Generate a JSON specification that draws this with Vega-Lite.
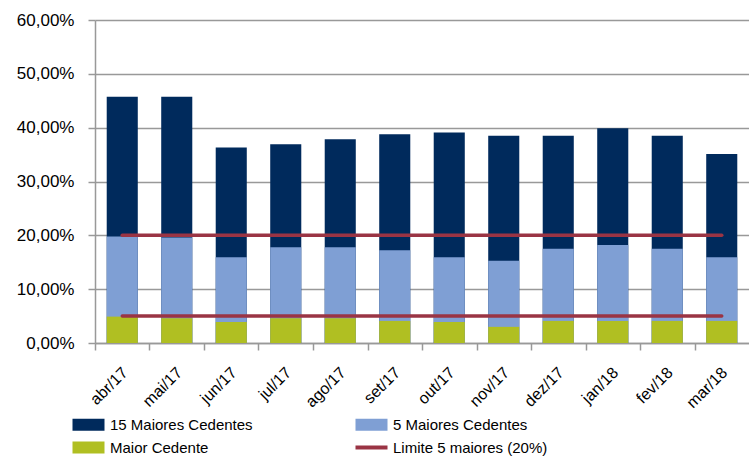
{
  "$schema": "https://vega.github.io/schema/vega-lite/v6.json",
  "width": 654,
  "height": 323,
  "autosize": {"type": "none"},
  "padding": {"left": 95, "top": 20, "right": 0, "bottom": 113},
  "background": "white",
  "config": {
    "view": {"stroke": null},
    "font": "Liberation Sans"
  },
  "datasets": {
    "barras": [
      {"mes": "abr/17", "serie": "15 Maiores Cedentes", "valor": 45.75},
      {"mes": "mai/17", "serie": "15 Maiores Cedentes", "valor": 45.75},
      {"mes": "jun/17", "serie": "15 Maiores Cedentes", "valor": 36.3},
      {"mes": "jul/17", "serie": "15 Maiores Cedentes", "valor": 36.9},
      {"mes": "ago/17", "serie": "15 Maiores Cedentes", "valor": 37.85},
      {"mes": "set/17", "serie": "15 Maiores Cedentes", "valor": 38.8},
      {"mes": "out/17", "serie": "15 Maiores Cedentes", "valor": 39.1},
      {"mes": "nov/17", "serie": "15 Maiores Cedentes", "valor": 38.5},
      {"mes": "dez/17", "serie": "15 Maiores Cedentes", "valor": 38.5},
      {"mes": "jan/18", "serie": "15 Maiores Cedentes", "valor": 39.9},
      {"mes": "fev/18", "serie": "15 Maiores Cedentes", "valor": 38.5},
      {"mes": "mar/18", "serie": "15 Maiores Cedentes", "valor": 35.1},
      {"mes": "abr/17", "serie": "5 Maiores Cedentes", "valor": 19.8},
      {"mes": "mai/17", "serie": "5 Maiores Cedentes", "valor": 19.6},
      {"mes": "jun/17", "serie": "5 Maiores Cedentes", "valor": 15.95},
      {"mes": "jul/17", "serie": "5 Maiores Cedentes", "valor": 17.8},
      {"mes": "ago/17", "serie": "5 Maiores Cedentes", "valor": 17.8},
      {"mes": "set/17", "serie": "5 Maiores Cedentes", "valor": 17.25},
      {"mes": "out/17", "serie": "5 Maiores Cedentes", "valor": 15.95},
      {"mes": "nov/17", "serie": "5 Maiores Cedentes", "valor": 15.3},
      {"mes": "dez/17", "serie": "5 Maiores Cedentes", "valor": 17.5},
      {"mes": "jan/18", "serie": "5 Maiores Cedentes", "valor": 18.2},
      {"mes": "fev/18", "serie": "5 Maiores Cedentes", "valor": 17.5},
      {"mes": "mar/18", "serie": "5 Maiores Cedentes", "valor": 15.95},
      {"mes": "abr/17", "serie": "Maior Cedente", "valor": 4.9},
      {"mes": "mai/17", "serie": "Maior Cedente", "valor": 4.6},
      {"mes": "jun/17", "serie": "Maior Cedente", "valor": 3.9},
      {"mes": "jul/17", "serie": "Maior Cedente", "valor": 4.6},
      {"mes": "ago/17", "serie": "Maior Cedente", "valor": 4.6},
      {"mes": "set/17", "serie": "Maior Cedente", "valor": 4.1},
      {"mes": "out/17", "serie": "Maior Cedente", "valor": 3.9},
      {"mes": "nov/17", "serie": "Maior Cedente", "valor": 3.0},
      {"mes": "dez/17", "serie": "Maior Cedente", "valor": 4.1},
      {"mes": "jan/18", "serie": "Maior Cedente", "valor": 4.1},
      {"mes": "fev/18", "serie": "Maior Cedente", "valor": 4.1},
      {"mes": "mar/18", "serie": "Maior Cedente", "valor": 4.1}
    ],
    "limites": [
      {"inicio": "abr/17", "fim": "mar/18", "valor": 20, "serie": "Limite 5 maiores (20%)"},
      {"inicio": "abr/17", "fim": "mar/18", "valor": 5, "serie": "Limite 5 maiores (20%)"}
    ]
  },
  "layer": [
    {
      "data": {"name": "barras"},
      "mark": {"type": "bar"},
      "encoding": {
        "x": {
          "field": "mes", "type": "nominal", "sort": null,
          "scale": {"paddingInner": 0.43, "paddingOuter": 0.215},
          "axis": {
            "title": null, "tickOffset": -27.25, "labelOffset": 24,
            "labelAngle": -45, "labelFontSize": 16, "labelColor": "#000",
            "domainColor": "#999", "domainWidth": 1.5,
            "tickColor": "#999", "tickSize": 7, "tickWidth": 1.5,
            "labelPadding": 14, "grid": false
          }
        },
        "y": {
          "field": "valor", "type": "quantitative", "stack": null,
          "scale": {"domain": [0, 60], "nice": false},
          "axis": {
            "title": null, "values": [0, 10, 20, 30, 40, 50, 60],
            "labelExpr": "replace(format(datum.value, '.2f'), '.', ',') + '%'",
            "labelFontSize": 17, "labelColor": "#000", "labelPadding": 14,
            "grid": true, "gridColor": "#999", "gridWidth": 1.5,
            "domainColor": "#999", "domainWidth": 1.5,
            "tickColor": "#999", "tickSize": 7, "tickWidth": 1.5
          }
        },
        "color": {
          "field": "serie", "type": "nominal",
          "scale": {
            "domain": ["15 Maiores Cedentes", "Maior Cedente", "5 Maiores Cedentes", "Limite 5 maiores (20%)"],
            "range": ["#002a5c", "#b0bf22", "#7f9fd4", "#9a3444"]
          },
          "legend": {
            "title": null, "orient": "none", "legendX": -14, "legendY": 397,
            "columns": 2, "columnPadding": 94, "rowPadding": 6,
            "labelFontSize": 15, "labelColor": "#000", "labelOffset": 14,
            "symbolSize": 1024, "labelLimit": 300,
            "encode": {
              "symbols": {
                "update": {
                  "shape": {"signal": "datum.label === 'Limite 5 maiores (20%)' ? 'M-1,0H1' : 'M-1,-0.375H1V0.375H-1Z'"},
                  "fill": {"scale": "color", "field": "value"},
                  "stroke": {"scale": "color", "field": "value"},
                  "strokeWidth": {"signal": "datum.label === 'Limite 5 maiores (20%)' ? 4 : 0"},
                  "opacity": {"value": 1}
                }
              }
            }
          }
        }
      }
    },
    {
      "data": {"name": "limites"},
      "mark": {"type": "rule", "strokeWidth": 3.5, "strokeCap": "round"},
      "encoding": {
        "x": {"field": "inicio", "type": "nominal", "sort": null},
        "x2": {"field": "fim"},
        "y": {"field": "valor", "type": "quantitative"},
        "color": {"field": "serie", "type": "nominal"}
      }
    }
  ]
}
